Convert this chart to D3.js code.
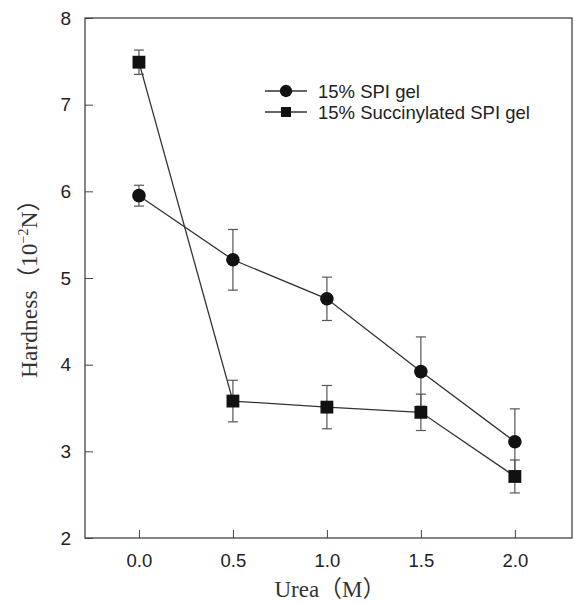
<!DOCTYPE html>
<html>
<head>
<meta charset="utf-8">
<script src="https://cdn.jsdelivr.net/npm/d3@7"></script>
<style>
  body { margin: 0; background: #fff; }
</style>
</head>
<body>
<div id="chart"></div>
<script>
// Urea concentration (M)
const ureaWerte = [0.0, 0.5, 1.0, 1.5, 2.0];
// 15% SPI gel
const spiWerte = [5.95, 5.21, 4.76, 3.92, 3.11];
const spiFehler = [0.12, 0.35, 0.25, 0.40, 0.38];
// 15% Succinylated SPI gel
const sucWerte = [7.49, 3.58, 3.51, 3.45, 2.71];
const sucFehler = [0.14, 0.24, 0.25, 0.21, 0.19];

const xTicks = [0.0, 0.5, 1.0, 1.5, 2.0];
const yTicks = [2, 3, 4, 5, 6, 7, 8];

const serien = [
    { label: '15% SPI gel', werte: spiWerte, fehler: spiFehler, symbol: d3.symbolCircle },
    { label: '15% Succinylated SPI gel', werte: sucWerte, fehler: sucFehler, symbol: d3.symbolSquare }
];

const breite = 575, hoehe = 604;
const rand = { links: 85, rechts: 572, oben: 18, unten: 538 };

const svg = d3.select('#chart').append('svg')
    .attr('width', breite)
    .attr('height', hoehe);

const x = d3.scaleLinear().domain([-0.287, 2.304]).range([rand.links, rand.rechts]);
const y = d3.scaleLinear().domain([2, 8]).range([rand.unten, rand.oben]);

// Rahmen
svg.append('rect')
    .attr('x', rand.links).attr('y', rand.oben)
    .attr('width', rand.rechts - rand.links)
    .attr('height', rand.unten - rand.oben)
    .attr('fill', 'none')
    .attr('stroke', '#444')
    .attr('stroke-width', 1.3);

// Achsen (Ticks nach innen)
const xAchse = svg.append('g')
    .attr('transform', `translate(0,${rand.unten})`)
    .call(d3.axisTop(x).tickValues(xTicks).tickSize(8).tickFormat(d3.format('.1f')));
xAchse.select('.domain').remove();
xAchse.selectAll('text')
    .attr('y', 16).attr('dy', '0.71em')
    .attr('font-size', '18.5px')
    .attr('font-family', 'Liberation Sans, Arial, sans-serif')
    .attr('fill', '#222');

const yAchse = svg.append('g')
    .attr('transform', `translate(${rand.links},0)`)
    .call(d3.axisRight(y).tickValues(yTicks).tickSize(8).tickFormat(d3.format('d')));
yAchse.select('.domain').remove();
yAchse.selectAll('text')
    .attr('x', -14).attr('text-anchor', 'end')
    .attr('font-size', '19px')
    .attr('font-family', 'Liberation Sans, Arial, sans-serif')
    .attr('fill', '#222');
yAchse.selectAll('.tick line').attr('stroke', '#444');
xAchse.selectAll('.tick line').attr('stroke', '#444');

// Achsentitel
svg.append('text')
    .attr('x', 330).attr('y', 597)
    .attr('text-anchor', 'middle')
    .attr('font-family', 'Liberation Serif, Times New Roman, Noto Sans CJK SC, serif')
    .attr('font-size', '23px')
    .attr('fill', '#333')
    .text('Urea（M）');

const yTitel = svg.append('text')
    .attr('transform', 'translate(37,283) rotate(-90)')
    .attr('text-anchor', 'middle')
    .attr('font-family', 'Liberation Serif, Times New Roman, Noto Sans CJK SC, serif')
    .attr('font-size', '23.5px')
    .attr('fill', '#333');
yTitel.append('tspan').text('Hardness（10');
yTitel.append('tspan').attr('dy', -9).attr('font-size', '14px').text('−2');
yTitel.append('tspan').attr('dy', 9).text('N）');

const linie = d3.line()
    .x((d, i) => x(ureaWerte[i]))
    .y(d => y(d));

serien.forEach(s => {
    const g = svg.append('g');
    // Fehlerbalken
    s.werte.forEach((w, i) => {
        const cx = x(ureaWerte[i]);
        const o = y(w + s.fehler[i]), u = y(w - s.fehler[i]);
        g.append('line').attr('x1', cx).attr('x2', cx).attr('y1', o).attr('y2', u)
            .attr('stroke', '#555').attr('stroke-width', 1.2);
        [o, u].forEach(yy => g.append('line')
            .attr('x1', cx - 5).attr('x2', cx + 5).attr('y1', yy).attr('y2', yy)
            .attr('stroke', '#555').attr('stroke-width', 1.2));
    });
    g.append('path')
        .attr('d', linie(s.werte))
        .attr('fill', 'none')
        .attr('stroke', '#333')
        .attr('stroke-width', 1.3);
    g.selectAll('.marker')
        .data(s.werte)
        .enter()
        .append('path')
        .attr('transform', (d, i) => `translate(${x(ureaWerte[i])},${y(d)})`)
        .attr('d', d3.symbol().type(s.symbol).size(s.symbol === d3.symbolCircle ? 145 : 165))
        .attr('fill', '#111');
});

// Legende
const legende = svg.selectAll('.legende')
    .data(serien)
    .enter()
    .append('g')
    .attr('transform', (_, i) => `translate(265, ${91 + i * 21})`);

legende.append('line')
    .attr('x1', 0).attr('x2', 42).attr('y1', 0).attr('y2', 0)
    .attr('stroke', '#333').attr('stroke-width', 1.3);
legende.append('path')
    .attr('transform', 'translate(21,0)')
    .attr('d', d => d3.symbol().type(d.symbol).size(d.symbol === d3.symbolCircle ? 120 : 100)())
    .attr('fill', '#111');
legende.append('text')
    .attr('x', 53).attr('y', 6.5)
    .attr('font-size', '18.5px')
    .attr('font-family', 'Liberation Sans, Arial, sans-serif')
    .attr('fill', '#222')
    .text(d => d.label);
</script>
</body>
</html>
